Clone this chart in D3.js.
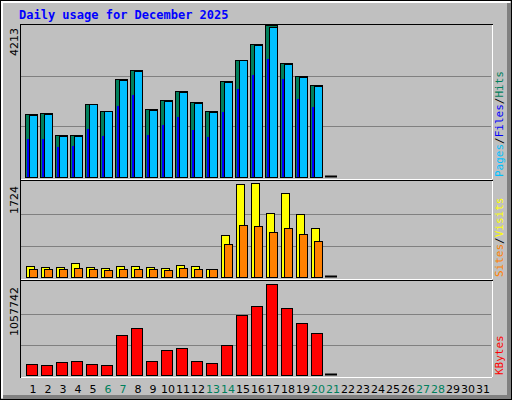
<!DOCTYPE html><html><head><script src="https://cdn.jsdelivr.net/npm/d3@7"></script>
<style>body{margin:0}</style></head><body><script>
const days=d3.range(1,32);
const weekends=[6,7,13,14,20,21,27,28];
const hits=[1746,1774,1164,1164,2024,1830,2717,2966,1885,2134,2384,2079,1830,2661,3243,3687,4213,3160,2800,2550,0];
const files=[1730,1750,1140,1150,2010,1820,2690,2950,1860,2120,2360,2050,1815,2640,3230,3660,4150,3130,2770,2520,0];
const pages=[1053,1053,832,859,1331,1137,1968,2273,1164,1441,1663,1303,1109,1802,2439,2827,3271,2717,2162,1940,0];
const visits=[206,187,187,262,187,169,206,206,187,169,225,206,150,768,1705,1724,1181,1537,1162,900,0];
const sites=[150,140,140,160,140,130,150,150,140,130,165,150,140,600,956,937,825,900,787,656,0];
const kbytes=[128000,116000,151000,163000,128000,116000,465000,546000,163000,291000,314000,163000,139000,349000,697000,802000,1057742,779000,604000,488000,0];
const W=512,H=400;
const svg=d3.select("body").append("svg").attr("width",W).attr("height",H).style("font-family","DejaVu Sans Mono");
svg.append("rect").attr("x",0.5).attr("y",0.5).attr("width",W-1).attr("height",H-1).attr("fill","#C0C0C0").attr("stroke","#000");
svg.append("path").attr("d",`M2,${H-2}V2H${W-2}`).attr("fill","none").attr("stroke","#fff").attr("stroke-width",2);
svg.append("path").attr("d",`M3,${H-3}H${W-3}V3`).attr("fill","none").attr("stroke","#808080").attr("stroke-width",4);
svg.append("text").attr("x",19).attr("y",19).attr("fill","#0000FF").style("font-weight","bold").style("font-size","12px").text("Daily usage for December 2025");
const x=d3.scaleLinear().domain([1,32]).range([25,490]);
const panels=[{top:25,bot:177,max:4213,label:"4213"},{top:183,bot:277,max:1724,label:"1724"},{top:284,bot:375,max:1057742,label:"1057742"}];
// frames
[[20,24,472,155],[20,180,472,99],[20,280,472,97]].forEach(([fx,fy,fw,fh])=>{
 svg.append("rect").attr("x",fx+0.5).attr("y",fy+0.5).attr("width",fw).attr("height",fh).attr("fill","#C0C0C0").attr("stroke","#000");
 svg.append("path").attr("d",`M${fx+1},${fy+fh+0.5}H${fx+fw+0.5}V${fy+1}`).attr("fill","none").attr("stroke","#fff");
});
const ys=panels.map(p=>d3.scaleLinear().domain([0,p.max]).range([p.bot,p.top]));
ys.forEach((y,i)=>{
 [1/3,2/3].forEach(f=>svg.append("line").attr("x1",21).attr("x2",491).attr("y1",Math.round(y(panels[i].max*f))+0.5).attr("y2",Math.round(y(panels[i].max*f))+0.5).attr("stroke","#808080"));
 svg.append("text").attr("transform",`translate(18,${panels[i].top+3}) rotate(-90)`).attr("text-anchor","end").style("font-family","DejaVu Sans").style("font-size","11px").text(panels[i].label);
});
function bars(data,y,off,w,col){
 svg.append("g").selectAll("rect").data(data).join("rect")
 .attr("x",(d,i)=>x(i+1)+off+0.5).attr("y",d=>Math.round(y(d))+0.5).attr("width",w).attr("height",d=>Math.max(0,y(0)-Math.round(y(d))))
 .attr("fill",col).attr("stroke","#000");
}
bars(hits.slice(0,20),ys[0],0,12,"#00805C");
bars(files.slice(0,20),ys[0],4,8,"#00C0FF");
svg.append("g").selectAll("rect").data(pages.slice(0,20)).join("rect").attr("x",(d,i)=>x(i+1)+2).attr("y",d=>ys[0](d)).attr("width",2).attr("height",d=>ys[0](0)-ys[0](d)).attr("fill","#0000FF");
bars(visits.slice(0,20),ys[1],1,8,"#FFFF00");
bars(sites.slice(0,20),ys[1],4,8,"#FF8000");
bars(kbytes.slice(0,20),ys[2],1,11,"#FF0000");
// zero day markers
[[0,panels[0].bot],[1,panels[1].bot],[2,panels[2].bot]].forEach(([i,b])=>svg.append("line").attr("x1",x(21)).attr("x2",x(21)+12).attr("y1",b-0.5).attr("y2",b-0.5).attr("stroke","#000").attr("stroke-width",2));
svg.append("g").selectAll("text").data(days).join("text").attr("x",d=>x(d)+8).attr("y",393).attr("text-anchor","middle").style("font-family","DejaVu Sans").style("font-size","11px")
 .attr("fill",d=>weekends.includes(d)?"#00805C":"#000").text(d=>d);
function legend(yb,parts){
 const t=svg.append("text").attr("transform",`translate(503,${yb}) rotate(-90)`).style("font-size","11px");
 parts.forEach(([s,c])=>t.append("tspan").attr("fill",c).text(s));
}
legend(177,[["Pages","#00C0FF"],["/","#000"],["Files","#0000FF"],["/","#000"],["Hits","#00805C"]]);
legend(277,[["Sites","#FF8000"],["/","#000"],["Visits","#FFFF00"]]);
legend(375,[["KBytes","#FF0000"]]);
</script></body></html>
